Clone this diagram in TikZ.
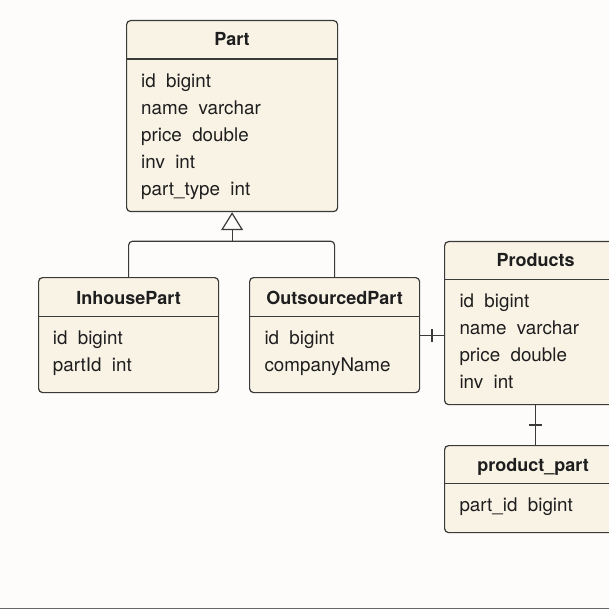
\documentclass[tikz,border=0pt]{standalone}
\usepackage{fontspec}
\setmainfont{TeX Gyre Heros}
\usetikzlibrary{
  arrows.meta,
  positioning,
}
\definecolor{bgcol}{HTML}{FDFCFA}
\definecolor{boxcol}{HTML}{F9F3E6}
\definecolor{linecol}{HTML}{3A3A3A}
\definecolor{textcol}{HTML}{1E1E1E}
\tikzset{
  >={Triangle[open,width=22pt,length=18pt,fill=bgcol]},
}
\newcommand{\fgap}{\hspace{0.55em}}

\begin{document}
\begin{tikzpicture}[
      x=1pt, y=-1pt,
      node distance = 9.5pt,
      every node/.style={
        text=textcol,
      },
      table/.style={draw=linecol,
        fill=boxcol,
        line width=1.2pt,
        rounded corners=4pt,
        anchor=north west,
        inner sep=0pt,
      },
      title/.style={
        font=\fontsize{18}{20}\selectfont\bfseries,
        anchor=base,
      },
      field/.style={
        font=\fontsize{18.8}{22}\selectfont,
        inner sep=0pt,
        text height=13pt, % fixed row height
        text depth=4pt,
        anchor=north west,
      },
      link/.style={draw=linecol, line width=1.2pt},
      tick/.style={draw=linecol, line width=1.2pt, inner sep=0pt},
      ]
      \path[use as bounding box, fill=bgcol] (0,0) rectangle (609,609);
      \clip (0,0) rectangle (609,609);

      % tables
      \node[table, minimum width=211pt, minimum height=191pt] (part) at (126,20) {};
      \node[table, minimum width=180pt, minimum height=115pt] (inhouse) at (38,277) {};
      \node[table, minimum width=170pt, minimum height=115pt] (outsourced) at (249,277) {};
      \node[table, minimum width=182pt, minimum height=163pt] (products) at (444,241) {};
      \node[table, minimum width=177pt, minimum height=87pt] (prodpart) at (444,445) {};

      % titles
      \node[title] (part-title) at ([yshift=-26pt]part.north) {Part};
      \node[title] (inhouse-title) at ([yshift=-27pt]inhouse.north) {InhousePart};
      \node[title] (outsourced-title) at ([yshift=-27pt]outsourced.north) {OutsourcedPart};
      \node[title] (products-title) at ([yshift=-25pt]products.north) {Products};
      \node[title] (prodpart-title) at ([yshift=-26.5pt]prodpart.north) {product\_part};

      \draw[link] ([yshift=-39pt]part.north west) -- ([yshift=-39pt]part.north east);
      \draw[link] ([yshift=-39.5pt]inhouse.north west) -- ([yshift=-39.5pt]inhouse.north east);
      \draw[link] ([yshift=-39.5pt]outsourced.north west) -- ([yshift=-39.5pt]outsourced.north east);
      \draw[link] ([yshift=-38.3pt]products.north west) -- ([yshift=-38.3pt]products.north east);
      \draw[link] ([yshift=-38.3pt]prodpart.north west) -- ([yshift=-38.3pt]prodpart.north east);

      % fields
      \node[field] (part-id) at ([xshift=15pt, yshift=-54.3pt]part.north west) {id\fgap bigint};
      \node[field, below=of part-id.south west, anchor=north west] (part-name) {name\fgap varchar};
      \node[field, below=of part-name.south west, anchor=north west] (part-price) {price\fgap double};
      \node[field, below=of part-price.south west, anchor=north west] (part-inv) {inv\fgap int};
      \node[field, below=of part-inv.south west, anchor=north west] (part-type) {part\_type\fgap int};

      \node[field] (inhouse-id) at ([xshift=14.7pt, yshift=-54.3pt]inhouse.north west) {id\fgap bigint};
      \node[field, below=of inhouse-id.south west, anchor=north west] (inhouse-partid) {partId\fgap int};

      \node[field] (outsourced-id) at ([xshift=15.3pt, yshift=-54.3pt]outsourced.north west) {id\fgap bigint};
      \node[field, below=of outsourced-id.south west, anchor=north west] (outsourced-company) {companyName};

      \node[field] (products-id) at ([xshift=15.3pt, yshift=-53.3pt]products.north west) {id\fgap bigint};
      \node[field, below=of products-id.south west, anchor=north west] (products-name) {name\fgap varchar};
      \node[field, below=of products-name.south west, anchor=north west] (products-price) {price\fgap double};
      \node[field, below=of products-price.south west, anchor=north west] (products-inv) {inv\fgap int};

      \node[field] (prodpart-id) at ([xshift=15.3pt, yshift=-53.7pt]prodpart.north west) {part\_id\fgap bigint};

      % inheritance
      \coordinate (split) at ([yshift=-29pt]part.south);
      \draw[link, ->] (split) -- (part.south);
      \draw[link, rounded corners=4pt] (inhouse.north) |- (split) -| (outsourced.north);

      % relations
      \draw[link] (outsourced.east) -- node[tick, minimum height=12pt] {} (outsourced.east -| products.west);
      \draw[link] (products.south) -- node[tick, minimum width=12pt] {} (products.south |- prodpart.north);

      \draw[draw=gray!80!black, line width=1pt] (0,608.5) -- (609,608.5);
    \end{tikzpicture}
\end{document}
